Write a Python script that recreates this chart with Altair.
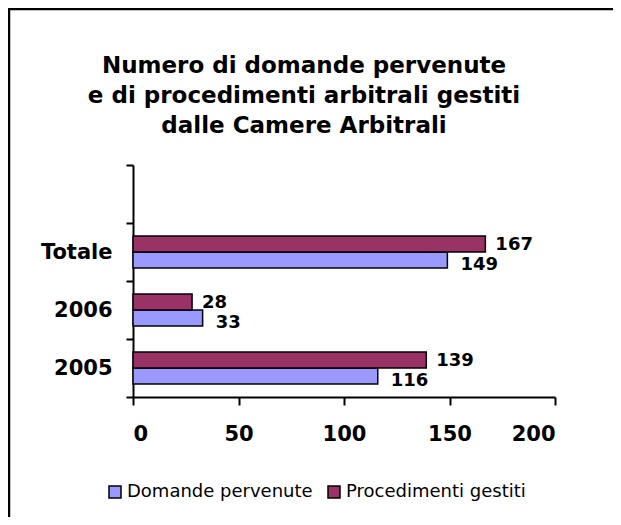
import altair as alt
import pandas as pd

categories = ["2005", "2006", "Totale"]
domande = [116, 33, 149]
procedimenti = [139, 28, 167]
series = ["Domande pervenute", "Procedimenti gestiti"]
colors = ["#9999FF", "#993366"]
y_domain = ["_blank", "Totale", "2006", "2005"]
x_ticks = [0, 50, 100, 150, 200]
title_lines = ["Numero di domande pervenute", "e di procedimenti arbitrali gestiti", "dalle Camere Arbitrali"]

rows = []
for c, d, p in zip(categories, domande, procedimenti):
    rows.append({"cat": c, "serie": series[0], "val": d})
    rows.append({"cat": c, "serie": series[1], "val": p})
df = pd.DataFrame(rows)

FONT = "DejaVu Sans"

y_enc = alt.Y(
    "cat:N",
    scale=alt.Scale(domain=y_domain, paddingInner=0, paddingOuter=0),
    axis=alt.Axis(
        title=None,
        labelExpr="datum.value == '_blank' ? '' : datum.value",
        tickBand="extent",
        tickSize=7,
        tickWidth=2,
        tickColor="black",
        domainColor="black",
        domainWidth=2,
        labelFont=FONT,
        labelFontSize=21,
        labelFontWeight="bold",
        labelColor="black",
        labelPadding=14,
        grid=False,
    ),
)
yoff_enc = alt.YOffset(
    "serie:N",
    scale=alt.Scale(domain=[series[1], series[0]], paddingInner=0, paddingOuter=0.8),
)
x_enc = alt.X(
    "val:Q",
    scale=alt.Scale(domain=[0, 200], nice=False),
    axis=alt.Axis(
        title=None,
        values=x_ticks,
        tickSize=8,
        tickWidth=2,
        tickColor="black",
        domainColor="black",
        domainWidth=2,
        labelFont=FONT,
        labelFontSize=21,
        labelFontWeight="bold",
        labelColor="black",
        labelPadding=18,
        grid=False,
    ),
)

bars = alt.Chart(df).mark_bar(stroke="black", strokeWidth=1.5).encode(
    x=x_enc,
    y=y_enc,
    yOffset=yoff_enc,
    color=alt.Color(
        "serie:N",
        scale=alt.Scale(domain=series, range=colors),
        legend=alt.Legend(
            title=None,
            orient="none",
            legendX=-27,
            legendY=318,
            direction="horizontal",
            symbolType="square",
            symbolSize=144,
            symbolStrokeColor="black",
            symbolStrokeWidth=1.5,
            labelFont=FONT,
            labelFontSize=18,
            labelColor="black",
            labelOffset=3,
            labelLimit=400,
            columnPadding=12,
            padding=0,
        ),
    ),
)

lab_purple = alt.Chart(df).transform_filter(
    alt.datum.serie == series[1]
).mark_text(
    align="left", baseline="middle", dx=10, dy=1, font=FONT, fontSize=18, fontWeight="bold", color="black"
).encode(x="val:Q", y=alt.Y("cat:N"), yOffset=alt.YOffset("serie:N"), text="val:Q")

lab_blue = alt.Chart(df).transform_filter(
    alt.datum.serie == series[0]
).mark_text(
    align="left", baseline="middle", dx=13, dy=5, font=FONT, fontSize=18, fontWeight="bold", color="black"
).encode(x="val:Q", y=alt.Y("cat:N"), yOffset=alt.YOffset("serie:N"), text="val:Q")

frame_data = alt.Data(values=[{"k": 1}])
title_text = alt.Chart(frame_data).mark_text(
    align="center", baseline="top", font=FONT, fontSize=23, fontWeight="bold",
    color="black", lineHeight=30
).encode(x=alt.value(171), y=alt.value(-110), text=alt.value(title_lines))

top_line = alt.Chart(frame_data).mark_rule(color="black", strokeWidth=2.5).encode(
    x=alt.value(-125), x2=alt.value(490), y=alt.value(-156)
)
left_line = alt.Chart(frame_data).mark_rule(color="black", strokeWidth=2.5).encode(
    x=alt.value(-124), y=alt.value(-157), y2=alt.value(360)
)

chart = alt.layer(bars, lab_purple, lab_blue, title_text, top_line, left_line).properties(
    width=422,
    height=232,
    autosize=alt.AutoSizeParams(type="none"),
    padding={"left": 125, "top": 157, "right": 58, "bottom": 120},
).configure_view(stroke=None)

chart.save("out.html", embed_options={"renderer": "svg", "actions": False})
